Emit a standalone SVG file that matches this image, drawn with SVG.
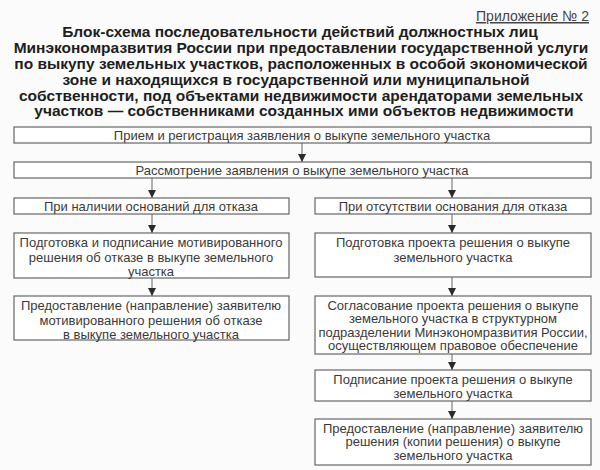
<svg xmlns="http://www.w3.org/2000/svg" width="600" height="470" viewBox="0 0 600 470">
<style>
  .bg{fill:#fbfbfb}
  .box{fill:#ffffff;stroke:#666;stroke-width:1.2}
  .t{font-family:"Liberation Sans",Arial,sans-serif;font-size:13px;fill:#3a3a3a;text-anchor:middle}
  .title{font-family:"Liberation Sans",Arial,sans-serif;font-size:15.5px;font-weight:bold;fill:#1e1e1e;text-anchor:middle}
  .app{font-family:"Liberation Sans",Arial,sans-serif;font-size:15px;fill:#444;text-anchor:end;text-decoration:underline}
  .c{stroke:#666;stroke-width:1;fill:none;marker-end:url(#ah)}
</style>
<defs>
  <marker id="ah" markerUnits="userSpaceOnUse" markerWidth="10" markerHeight="12" refX="8" refY="4" orient="auto">
    <path d="M0,0 L8,4 L0,8 Z" fill="#2a2a2a"/>
  </marker>
</defs>
<rect class="bg" x="0" y="0" width="600" height="470"/>
<text class="app" x="589" y="21" textLength="113" lengthAdjust="spacingAndGlyphs">Приложение № 2</text>
<g id="title">
  <text class="title" x="300" y="37">Блок-схема последовательности действий должностных лиц</text>
  <text class="title" x="301" y="53">Минэкономразвития России при предоставлении государственной услуги</text>
  <text class="title" x="301" y="68.5">по выкупу земельных участков, расположенных в особой экономической</text>
  <text class="title" x="296" y="84.5">зоне и находящихся в государственной или муниципальной</text>
  <text class="title" x="301" y="100.5">собственности, под объектами недвижимости арендаторами земельных</text>
  <text class="title" x="304" y="116">участков — собственниками созданных ими объектов недвижимости</text>
</g>
<g id="connectors">
  <line class="c" x1="302" y1="143" x2="302" y2="162"/>
  <line class="c" x1="152" y1="178" x2="152" y2="198"/>
  <line class="c" x1="452" y1="178" x2="452" y2="198"/>
  <line class="c" x1="152" y1="214" x2="152" y2="233"/>
  <line class="c" x1="452" y1="214" x2="452" y2="233"/>
  <line class="c" x1="152" y1="278" x2="152" y2="296"/>
  <line class="c" x1="452" y1="277" x2="452" y2="296"/>
  <line class="c" x1="452" y1="354" x2="452" y2="370"/>
  <line class="c" x1="452" y1="401" x2="452" y2="419"/>
</g>
<g id="n1">
  <rect class="box" x="14" y="127" width="577" height="16"/>
  <text class="t" x="302" y="139.5">Прием и регистрация заявления о выкупе земельного участка</text>
</g>
<g id="n2">
  <rect class="box" x="14" y="162" width="577" height="16"/>
  <text class="t" x="302" y="174.5">Рассмотрение заявления о выкупе земельного участка</text>
</g>
<g id="n3">
  <rect class="box" x="14" y="198" width="275" height="16"/>
  <text class="t" x="151" y="210.5">При наличии оснований для отказа</text>
</g>
<g id="n4">
  <rect class="box" x="315" y="198" width="276" height="16"/>
  <text class="t" x="453" y="210.5">При отсутствии основания для отказа</text>
</g>
<g id="n5">
  <rect class="box" x="14" y="233" width="275" height="45"/>
  <text class="t" x="151" y="246.5">Подготовка и подписание мотивированного</text>
  <text class="t" x="151" y="261.5">решения об отказе в выкупе земельного</text>
  <text class="t" x="151" y="276">участка</text>
</g>
<g id="n6">
  <rect class="box" x="315" y="233" width="276" height="44"/>
  <text class="t" x="453" y="246.5">Подготовка проекта решения о выкупе</text>
  <text class="t" x="453" y="261.5">земельного участка</text>
</g>
<g id="n7">
  <rect class="box" x="14" y="296" width="275" height="44"/>
  <text class="t" x="151" y="310">Предоставление (направление) заявителю</text>
  <text class="t" x="151" y="324.5">мотивированного решения об отказе</text>
  <text class="t" x="151" y="338.5">в выкупе земельного участка</text>
</g>
<g id="n8">
  <rect class="box" x="315" y="296" width="276" height="58"/>
  <text class="t" x="453" y="309.5">Согласование проекта решения о выкупе</text>
  <text class="t" x="453" y="323">земельного участка в структурном</text>
  <text class="t" x="453" y="336.5">подразделении Минэкономразвития России,</text>
  <text class="t" x="453" y="350">осуществляющем правовое обеспечение</text>
</g>
<g id="n9">
  <rect class="box" x="315" y="370" width="276" height="31"/>
  <text class="t" x="453" y="384">Подписание проекта решения о выкупе</text>
  <text class="t" x="453" y="397.5">земельного участка</text>
</g>
<g id="n10">
  <rect class="box" x="315" y="419" width="276" height="46"/>
  <text class="t" x="453" y="432.5">Предоставление (направление) заявителю</text>
  <text class="t" x="453" y="446">решения (копии решения) о выкупе</text>
  <text class="t" x="453" y="460">земельного участка</text>
</g>
</svg>
